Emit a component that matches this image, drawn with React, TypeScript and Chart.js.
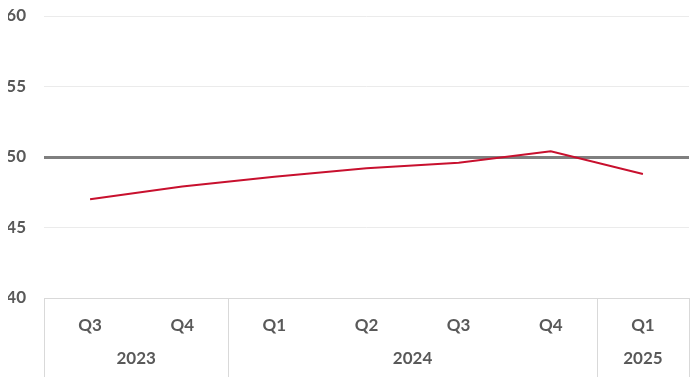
import React, { useEffect, useRef } from "react";
import { Chart, registerables } from "chart.js";
Chart.register(...registerables);

const quarters = ["Q3", "Q4", "Q1", "Q2", "Q3", "Q4", "Q1"];
const years = ["2023", "2024", "2025"];
const yearSpans = [2, 4, 1];
const values = [47.0, 47.9, 48.6, 49.2, 49.6, 50.4, 48.8];
const yTicks = [40, 45, 50, 55, 60];
const referenceLevel = 50;

const FONT = "Lato, 'Open Sans', sans-serif";
const TEXT = "#595959";
const SEP = "#d9d9d9";

export default function App() {
  const ref = useRef<HTMLCanvasElement | null>(null);

  useEffect(() => {
    const starts: number[] = [];
    let acc = 0;
    yearSpans.forEach((s) => {
      starts.push(acc);
      acc += s;
    });
    const centers = starts.map((s, i) => s + (yearSpans[i] - 1) / 2);
    const bounds = [...starts, acc];

    const separators = {
      id: "yearSeparators",
      afterDraw(chart: any) {
        const xs = chart.scales.x;
        const ctx = chart.ctx;
        const top = chart.chartArea.bottom;
        const bottom = chart.height;
        ctx.save();
        ctx.strokeStyle = SEP;
        ctx.lineWidth = 1;
        bounds.forEach((b) => {
          const px = Math.round(xs.getPixelForValue(b - 0.5)) + 0.5;
          ctx.beginPath();
          ctx.moveTo(px, top);
          ctx.lineTo(px, bottom);
          ctx.stroke();
        });
        ctx.restore();
      },
    };

    const noSidePad = (h: number) => (axis: any) => {
      axis.paddingLeft = 0;
      axis.paddingRight = 0;
      axis.height = h;
    };

    const chart = new Chart(ref.current as HTMLCanvasElement, {
      type: "line",
      data: {
        labels: quarters,
        datasets: [
          {
            data: values,
            borderColor: "#C8102E",
            borderWidth: 2,
            pointRadius: 0,
            tension: 0,
            fill: false,
          },
        ],
      },
      options: {
        animation: false,
        responsive: true,
        maintainAspectRatio: false,
        layout: { padding: { left: 8, right: 11, top: 16, bottom: 0 } },
        plugins: { legend: { display: false }, tooltip: { enabled: false } },
        scales: {
          x: {
            type: "category",
            offset: true,
            weight: 0,
            border: { display: true, color: SEP, width: 1 },
            grid: { display: false, drawTicks: false },
            afterFit: noSidePad(44),
            ticks: {
              padding: 17,
              color: TEXT,
              font: { family: FONT, size: 17, weight: "bold" },
              maxRotation: 0,
              autoSkip: false,
            },
          },
          x2: {
            type: "linear",
            position: "bottom",
            weight: 1,
            min: -0.5,
            max: quarters.length - 0.5,
            grid: { display: false, drawTicks: false },
            border: { display: false },
            afterFit: noSidePad(35),
            afterBuildTicks: (axis: any) => {
              axis.ticks = centers.map((v) => ({ value: v }));
            },
            ticks: {
              padding: 6,
              color: TEXT,
              font: { family: FONT, size: 17, weight: "bold" },
              autoSkip: false,
              maxRotation: 0,
              callback: (v: any) => {
                const i = centers.indexOf(Number(v));
                return i >= 0 ? years[i] : "";
              },
            },
          },
          y: {
            min: yTicks[0],
            max: yTicks[yTicks.length - 1],
            afterBuildTicks: (axis: any) => {
              axis.ticks = yTicks.map((v) => ({ value: v }));
            },
            afterFit: (axis: any) => {
              axis.width = 36;
              axis.paddingTop = 0;
              axis.paddingBottom = 0;
            },
            border: { display: false },
            grid: {
              drawTicks: false,
              color: (ctx: any) => (ctx.tick && ctx.tick.value === referenceLevel ? "#7f7f7f" : "#ebebeb"),
              lineWidth: (ctx: any) => (ctx.tick && ctx.tick.value === referenceLevel ? 3 : 1),
            },
            ticks: {
              padding: 18,
              color: TEXT,
              font: { family: FONT, size: 17, weight: "bold" },
            },
          },
        },
      },
      plugins: [separators],
    } as any);
    return () => chart.destroy();
  }, []);

  return (
    <div style={{ position: "fixed", left: 0, top: 0, width: 700, height: 377 }}>
      <canvas ref={ref} />
    </div>
  );
}
